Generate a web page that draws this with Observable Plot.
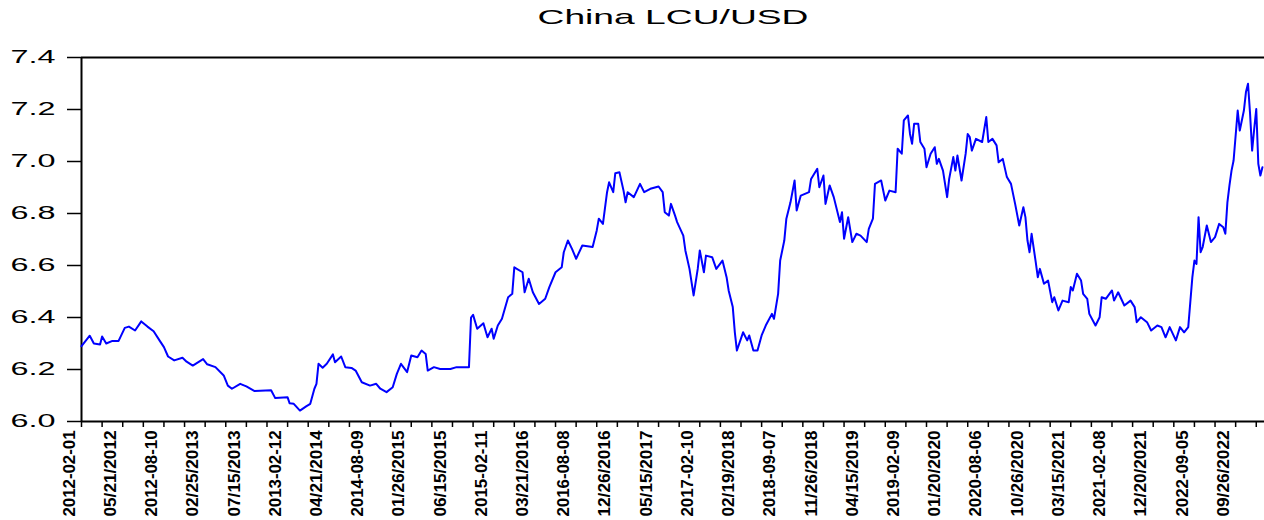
<!DOCTYPE html>
<html>
<head>
<meta charset="utf-8">
<script src="https://cdn.jsdelivr.net/npm/d3@7"></script>
<script src="https://cdn.jsdelivr.net/npm/@observablehq/plot@0.6"></script>
<style>
  html, body { margin: 0; padding: 0; background: #fff; }
  #chart svg { display: block; }
</style>
</head>
<body>
<div id="chart"></div>
<script>
const title = "China LCU/USD";

const obs = [0,2,4,6,9,10,12,15,18,21,23,26,29,32,35,38,40,42,45,49,51,54,59,61,65,69,71,73,77,80,84,92,94,100,101,103,106,109,111,113,114,115,117,119,122,123,126,128,131,133,136,140,143,145,148,151,153,155,158,160,163,165,167,168,171,174,179,182,188,189,190,192,195,197,199,200,202,204,207,209,210,214,215,217,219,222,225,227,230,233,234,236,238,240,243,248,250,251,253,255,256,258,259,261,263,264,265,268,271,273,276,280,282,283,285,286,288,289,292,293,295,297,299,300,302,303,306,308,311,313,314,316,317,318,321,323,324,326,328,330,332,335,336,338,339,341,342,344,346,347,349,353,354,357,358,360,361,363,365,368,369,370,372,374,376,378,381,382,384,385,388,390,392,395,396,398,399,401,402,403,404,406,407,409,410,412,414,415,416,418,420,421,423,424,425,427,429,430,431,432,434,437,439,440,442,444,445,447,449,451,453,455,457,458,459,460,461,463,464,465,467,469,471,472,474,476,479,480,481,483,485,486,488,489,492,494,495,497,500,501,503,506,509,511,512,514,517,519,522,524,526,528,531,533,535,537,539,540,541,542,543,544,546,548,550,552,554,555,556,557,558,559,561,562,564,565,566,567,568,569,570,571,572,573];
const rate = [6.29,6.31,6.33,6.30,6.296,6.327,6.30,6.31,6.31,6.36,6.365,6.35,6.385,6.365,6.347,6.31,6.286,6.25,6.235,6.245,6.23,6.215,6.24,6.22,6.209,6.177,6.138,6.126,6.145,6.135,6.117,6.12,6.09,6.093,6.07,6.068,6.042,6.058,6.068,6.126,6.145,6.222,6.207,6.222,6.258,6.228,6.25,6.209,6.206,6.196,6.151,6.138,6.145,6.126,6.113,6.132,6.183,6.222,6.19,6.254,6.247,6.273,6.26,6.196,6.209,6.202,6.202,6.209,6.209,6.40,6.41,6.357,6.378,6.324,6.357,6.318,6.369,6.395,6.478,6.491,6.593,6.574,6.497,6.549,6.497,6.452,6.472,6.517,6.574,6.593,6.651,6.696,6.664,6.626,6.677,6.671,6.735,6.78,6.76,6.882,6.92,6.882,6.955,6.959,6.888,6.843,6.882,6.863,6.914,6.882,6.895,6.904,6.882,6.805,6.792,6.837,6.792,6.767,6.715,6.658,6.587,6.485,6.587,6.658,6.574,6.638,6.632,6.587,6.619,6.555,6.504,6.44,6.343,6.273,6.343,6.312,6.331,6.273,6.273,6.331,6.369,6.414,6.395,6.491,6.619,6.696,6.78,6.843,6.927,6.812,6.869,6.882,6.933,6.972,6.901,6.946,6.837,6.908,6.863,6.767,6.805,6.703,6.786,6.69,6.722,6.715,6.69,6.741,6.78,6.914,6.927,6.85,6.888,6.882,7.049,7.03,7.158,7.177,7.106,7.068,7.145,7.145,7.075,7.049,6.978,7.03,7.055,6.991,7.01,6.965,6.863,6.933,7.017,6.965,7.023,6.927,7.03,7.106,7.094,7.042,7.087,7.075,7.171,7.075,7.087,7.062,6.997,7.01,6.94,6.914,6.837,6.754,6.824,6.786,6.696,6.651,6.722,6.613,6.555,6.587,6.53,6.542,6.459,6.478,6.427,6.465,6.459,6.517,6.504,6.568,6.542,6.491,6.472,6.414,6.369,6.401,6.478,6.472,6.504,6.465,6.497,6.446,6.465,6.44,6.382,6.401,6.382,6.35,6.369,6.363,6.324,6.363,6.312,6.363,6.343,6.363,6.555,6.619,6.606,6.786,6.651,6.671,6.754,6.69,6.709,6.76,6.747,6.722,6.843,6.908,6.965,7.004,7.196,7.119,7.196,7.267,7.299,7.183,7.042,7.125,7.202,6.991,6.946,6.978];

// x-axis: a tick every 10 observations, a label every 20
const tickObs = d3.range(0, 574, 10);
const labelObs = d3.range(0, 561, 20);
const tickLabels = ["2012-02-01","05/21/2012","2012-08-10","02/25/2013","07/15/2013","2013-02-12","04/21/2014","2014-08-09","01/26/2015","06/15/2015","2015-02-11","03/21/2016","2016-08-08","12/26/2016","05/15/2017","2017-02-10","02/19/2018","2018-09-07","11/26/2018","04/15/2019","2019-02-09","01/20/2020","2020-08-06","10/26/2020","03/15/2021","2021-02-08","12/20/2021","2022-09-05","09/26/2022"];
const yTicks = [6.0, 6.2, 6.4, 6.6, 6.8, 7.0, 7.2, 7.4];

const data = obs.map((o, i) => ({obs: o, rate: rate[i]}));
const labels = labelObs.map((o, i) => ({obs: o, label: tickLabels[i]}));

const chart = Plot.plot({
  width: 1264,
  height: 520,
  marginTop: 57,
  marginBottom: 99,
  marginLeft: 81,
  marginRight: 0,
  style: {fontFamily: "'Liberation Sans', Arial, sans-serif", background: "#fff", color: "#000"},
  x: {domain: [0, 574], axis: null},
  y: {domain: [6.0, 7.4], axis: null},
  marks: [
    Plot.axisY(yTicks, {anchor: "left", tickSize: 14, tickPadding: 12, tickFormat: d => d.toFixed(1), fontSize: 18, strokeWidth: 1.5, label: null}),
    Plot.axisX(tickObs, {anchor: "bottom", tickSize: 6, fill: "none", strokeWidth: 1.5, label: null}),
    Plot.text(labels, {x: "obs", text: "label", frameAnchor: "bottom", rotate: -90, textAnchor: "end", lineAnchor: "middle", dy: 9, dx: -12, fontSize: 16, fontWeight: "bold", fill: "#000"}),
    Plot.ruleY([7.4], {strokeWidth: 2}),
    Plot.ruleY([6.0], {strokeWidth: 2}),
    Plot.ruleX([0], {strokeWidth: 2}),
    Plot.line(data, {x: "obs", y: "rate", stroke: "#0000ff", strokeWidth: 2}),
    Plot.text([title], {frameAnchor: "top", dy: -40, fontSize: 21, lineAnchor: "middle"})
  ]
});

document.getElementById("chart").appendChild(chart);

// stretch texts horizontally like the original export
chart.querySelectorAll("text").forEach(t => {
  const s = t.textContent;
  if (s === title) { t.setAttribute("textLength", 271); t.setAttribute("lengthAdjust", "spacingAndGlyphs"); }
  else if (/^\d\.\d$/.test(s)) { t.setAttribute("textLength", 45); t.setAttribute("lengthAdjust", "spacingAndGlyphs"); }
  else if (tickLabels.includes(s)) { t.setAttribute("textLength", 86); t.setAttribute("lengthAdjust", "spacingAndGlyphs"); }
});
</script>
</body>
</html>
